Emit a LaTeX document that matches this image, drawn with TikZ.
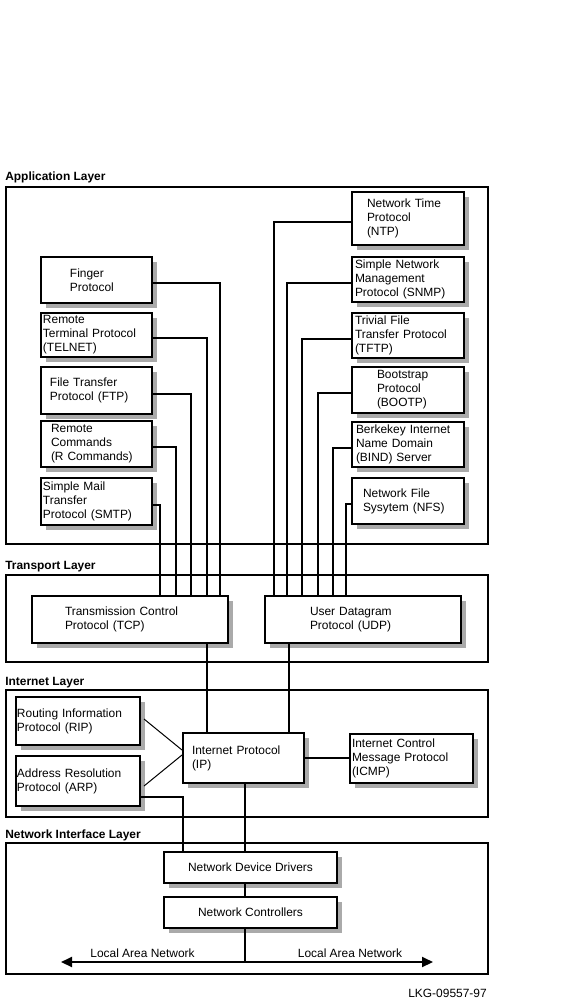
\documentclass[tikz,border=0pt]{standalone}
\usepackage{fontspec}
\setmainfont{Liberation Sans}
\usepackage{tikz}
\usetikzlibrary{positioning,arrows.meta,shadows,calc}
\definecolor{shadowGray}{RGB}{170,170,170}

\begin{document}
\begin{tikzpicture}[
  x=0.25mm, y=-0.25mm,
  font=\fontsize{8.5}{10}\selectfont,
  layer/.style={draw, line width=0.5mm, minimum width=120.5mm, inner sep=0pt},
  title/.style={anchor=base west, inner sep=0pt, font=\fontsize{8.5}{10}\selectfont\bfseries},
  box/.style={draw, line width=0.5mm, fill=white, align=left, inner ysep=0pt,
    general shadow={fill=shadowGray, shadow xshift=1.25mm, shadow yshift=-1.25mm}},
  appl/.style={box, minimum height=11.5mm},
  cbox/.style={box, align=center, inner xsep=0pt, minimum width=43.25mm, minimum height=7.75mm},
  lbl/.style={anchor=base, inner sep=0pt},
  conn/.style={line width=0.5mm},
  thinconn/.style={line width=0.25mm},
  lan/.style={line width=0.5mm, {Triangle[length=2.75mm, width=2.5mm]}-{Triangle[length=2.75mm, width=2.5mm]}}
]
  \useasboundingbox (0,0) rectangle (588,1004);
  \node[layer, minimum height=89.25mm] (app) at (247, 365.5) {};
  \node[layer, minimum height=21.75mm] (trans) at (247, 618.5) {};
  \node[layer, minimum height=31.75mm] (inet) at (247, 753.5) {};
  \node[layer, minimum height=32.75mm] (nif) at (247, 908.5) {};
  \node[title] (apptitle) at (5, 180) {Application Layer};
  \node[title] (transtitle) at (5, 569) {Transport Layer};
  \node[title] (inettitle) at (5, 685) {Internet Layer};
  \node[title] (niftitle) at (5, 838) {Network Interface Layer};
  \node[appl, inner xsep=7.25mm, text width=13.25mm] (finger) at (96.5, 280) {Finger\\Protocol};
  \node[appl, inner xsep=0.5mm, text width=26.75mm, minimum height=11mm] (telnet) at (96.5, 335) {Remote\\Terminal Protocol\\(TELNET)};
  \node[appl, inner xsep=2.25mm, text width=23.25mm, minimum height=11.75mm] (ftp) at (96.5, 390.5) {File Transfer\\Protocol (FTP)};
  \node[appl, inner xsep=2.5mm, text width=22.75mm] (rcmd) at (96.5, 444) {Remote\\Commands\\(R Commands)};
  \node[appl, inner xsep=0.5mm, text width=26.75mm, minimum height=11.75mm] (smtp) at (96.5, 501.5) {Simple Mail\\Transfer\\Protocol (SMTP)};
  \node[appl, inner xsep=3.75mm, text width=20.5mm, minimum height=13.25mm] (ntp) at (408, 218.5) {Network Time\\Protocol\\(NTP)};
  \node[appl, inner xsep=0.75mm, text width=26.5mm, minimum height=11.25mm] (snmp) at (408, 279.5) {Simple Network\\Management\\Protocol (SNMP)};
  \node[appl, inner xsep=0.75mm, text width=26.5mm, minimum height=11.25mm] (tftp) at (408, 335.5) {Trivial File\\Transfer Protocol\\(TFTP)};
  \node[appl, inner xsep=6.25mm, text width=15.5mm] (bootp) at (408, 390) {Bootstrap\\Protocol\\(BOOTP)};
  \node[appl, inner xsep=1mm, text width=26mm, minimum height=11.25mm] (bind) at (408, 444.5) {Berkekey Internet\\Name Domain\\(BIND) Server};
  \node[appl, inner xsep=2.75mm, text width=22.5mm] (nfs) at (408, 501) {Network File\\Sysytem (NFS)};
  \node[box, inner xsep=8.25mm, text width=32.5mm, minimum height=11.75mm] (tcp) at (130, 619.5) {Transmission Control\\Protocol (TCP)};
  \node[box, inner xsep=11.25mm, text width=26.5mm, minimum height=11.75mm] (udp) at (363, 619.5) {User Datagram\\Protocol (UDP)};
  \node[box, inner xsep=0.25mm, text width=30.5mm, minimum height=12mm] (rip) at (78, 721) {Routing Information\\Protocol (RIP)};
  \node[box, inner xsep=0.25mm, text width=30.5mm, minimum height=12.5mm] (arp) at (78, 781) {Address Resolution\\Protocol (ARP)};
  \node[box, inner xsep=2.25mm, text width=25.75mm, minimum height=12.5mm] (ip) at (243.5, 758) {Internet Protocol\\(IP)};
  \node[box, inner xsep=0.5mm, text width=29.75mm, minimum height=12.25mm] (icmp) at (411.5, 758) {Internet Control\\Message Protocol\\(ICMP)};
  \node[cbox] (ndd) at (250.5, 867.5) {Network Device Drivers};
  \node[cbox] (nc) at (250.5, 912.5) {Network Controllers};
  \coordinate (lanL) at (61, 962);
  \coordinate (lanR) at (433, 962);
  \foreach \b/\x in {finger/220, telnet/207, ftp/191, rcmd/176, smtp/160}
    \draw[conn] ([yshift=-0.75mm]\b.east) -| (\x,0 |- tcp.north);
  \foreach \b/\x in {ntp/274, snmp/287, tftp/302, bootp/318, bind/333, nfs/346}
    \draw[conn] ([yshift=-0.75mm]\b.west) -| (\x,0 |- udp.north);
  \draw[conn] (207,0 |- tcp.south) -- (207,0 |- ip.north);
  \draw[conn] (289,0 |- udp.south) -- (289,0 |- ip.north);
  \draw[thinconn] ([xshift=0.75mm, yshift=0.5mm]rip.east) -- ([yshift=2mm]ip.west);
  \draw[thinconn] ([xshift=0.75mm, yshift=-1.25mm]arp.east) -- ([yshift=0.75mm]ip.west);
  \draw[conn] (ip.east) -- (icmp.west);
  \draw[conn] ([yshift=-4mm]arp.east) -| (183,0 |- ndd.north);
  \draw[conn] (245,0 |- ip.south) -- (245,0 |- ndd.north);
  \draw[conn] (245,0 |- ndd.south) -- (245,0 |- nc.north);
  \draw[conn] (245,0 |- nc.south) -- (245,0 |- lanL);
  \draw[lan] (lanL) -- (lanR);
  \node[lbl] (lanltxt) at (142.5, 957) {Local Area Network};
  \node[lbl] (lanrtxt) at (350, 957) {Local Area Network};
  \node[anchor=base east, inner sep=0pt] (figid) at (487, 997) {LKG-09557-97};
\end{tikzpicture}
\end{document}
